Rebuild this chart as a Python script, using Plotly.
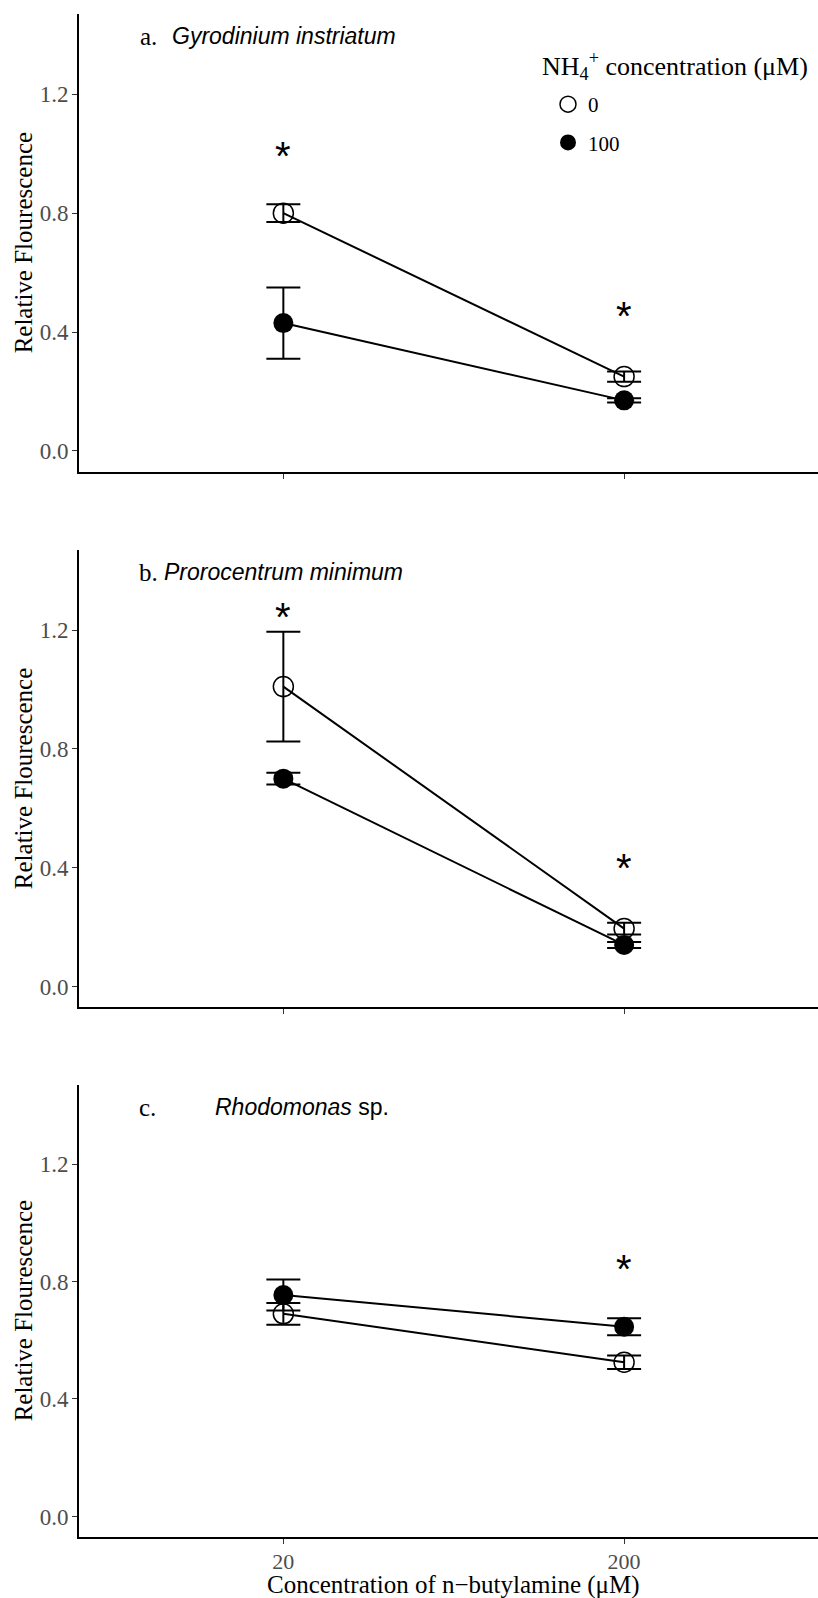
import plotly.graph_objects as go

# ---------------- data ----------------
concs = ["20", "200"]                      # n-butylamine concentration (µM)
nh4_levels = ["0", "100"]                  # NH4+ concentration (µM)
panel_letters = ["a.", "b.", "c."]
species = ["<i>Gyrodinium instriatum</i>",
           "<i>Prorocentrum minimum</i>",
           "<i>Rhodomonas</i> sp."]

a_mean_0 = [0.80, 0.25]
a_se_0 = [0.030, 0.017]
a_mean_100 = [0.43, 0.17]
a_se_100 = [0.120, 0.007]
a_star = [1.01, 0.47]

b_mean_0 = [1.01, 0.195]
b_se_0 = [0.185, 0.020]
b_mean_100 = [0.70, 0.14]
b_se_100 = [0.020, 0.010]
b_star = [1.26, 0.415]

c_mean_0 = [0.69, 0.525]
c_se_0 = [0.037, 0.023]
c_mean_100 = [0.754, 0.646]
c_se_100 = [0.053, 0.029]
c_star = [None, 0.86]

y_ticks = [0.0, 0.4, 0.8, 1.2]
y_title = "Relative Flourescence"
x_title = "Concentration of n\u2212butylamine (\u03bcM)"
legend_title = "NH<sub>4</sub><sup>+</sup> concentration (\u03bcM)"

panels = [
    (a_mean_0, a_se_0, a_mean_100, a_se_100, a_star),
    (b_mean_0, b_se_0, b_mean_100, b_se_100, b_star),
    (c_mean_0, c_se_0, c_mean_100, c_se_100, c_star),
]

# ---------------- layout geometry (pixels) ----------------
W, H = 818, 1598
panel_px = [(14.0, 471.7), (550.0, 1007.3), (1084.7, 1537.0)]   # top, bottom
x_left_px = 79.0
title_x_px = [(138, 170), (137, 162), (137, 213)]

SERIF = "Liberation Serif"
SANS = "Liberation Sans"
TICK_GREY = "#4D4D4D"

fig = go.Figure()
annotations = []

for i, (m0, s0, m100, s100, stars) in enumerate(panels):
    n = i + 1
    xa = "x" if n == 1 else f"x{n}"
    ya = "y" if n == 1 else f"y{n}"
    xidx = list(range(len(concs)))

    # connecting lines
    for m in (m0, m100):
        fig.add_trace(go.Scatter(
            x=concs, y=m, mode="lines", xaxis=xa, yaxis=ya,
            line=dict(color="black", width=2), showlegend=False,
            hoverinfo="skip"))

    # points with error bars
    fig.add_trace(go.Scatter(
        x=concs, y=m0, mode="markers", xaxis=xa, yaxis=ya,
        name=nh4_levels[0], legendgroup="g0", showlegend=(n == 1),
        marker=dict(symbol="circle-open", size=20, color="black",
                    line=dict(width=1.5, color="black")),
        error_y=dict(type="data", array=s0, visible=True, color="black",
                     thickness=2, width=17)))
    fig.add_trace(go.Scatter(
        x=concs, y=m100, mode="markers", xaxis=xa, yaxis=ya,
        name=nh4_levels[1], legendgroup="g1", showlegend=(n == 1),
        marker=dict(symbol="circle", size=20, color="black",
                    line=dict(width=0)),
        error_y=dict(type="data", array=s100, visible=True, color="black",
                     thickness=2, width=17)))

    top, bot = panel_px[i]
    dom = [1 - bot / H, 1 - top / H]
    fig.update_layout(**{
        ("xaxis" if n == 1 else f"xaxis{n}"): dict(
            domain=[x_left_px / W, 1.0], anchor=ya,
            type="category", categoryorder="array", categoryarray=concs,
            range=[-0.5997, 1.569], showline=True, linecolor="black",
            linewidth=2, ticks="outside", ticklen=5, tickwidth=1,
            tickcolor="#333333", showgrid=False, zeroline=False,
            showticklabels=(n == 3), ticklabelstandoff=-1,
            tickfont=dict(family=SERIF, size=22, color=TICK_GREY)),
        ("yaxis" if n == 1 else f"yaxis{n}"): dict(
            domain=dom, anchor=xa, range=[-0.07, 1.47],
            tickvals=y_ticks, tickformat=".1f", showline=True,
            linecolor="black", linewidth=2, ticks="outside", ticklen=5,
            tickwidth=1, tickcolor="#333333", showgrid=False,
            zeroline=False, ticklabelstandoff=-1,
            tickfont=dict(family=SERIF, size=23, color=TICK_GREY)),
    })

    # significance asterisks
    for j, sy in enumerate(stars):
        if sy is None:
            continue
        annotations.append(dict(
            x=xidx[j], y=sy, xref=xa, yref=ya, text="*", showarrow=False,
            font=dict(family=SANS, size=40, color="black"),
            xanchor="center", yanchor="middle", yshift=-5))

    # panel titles
    base = top + 30.5
    lx, sx = title_x_px[i]
    annotations.append(dict(
        x=lx / W, y=1 - (base + 0.216 * 25 + 2) / H, xref="paper",
        yref="paper", text=panel_letters[i], showarrow=False,
        xanchor="left", yanchor="bottom",
        font=dict(family=SERIF, size=25, color="black")))
    annotations.append(dict(
        x=sx / W, y=1 - (base + 0.212 * 23 + 2) / H, xref="paper",
        yref="paper", text=species[i], showarrow=False,
        xanchor="left", yanchor="bottom",
        font=dict(family=SANS, size=23, color="black")))

    # y-axis title
    annotations.append(dict(
        x=23.5 / W, y=(dom[0] + dom[1]) / 2, xref="paper", yref="paper",
        text=y_title, showarrow=False, textangle=-90,
        xanchor="center", yanchor="middle",
        font=dict(family=SERIF, size=25, color="black")))

# x-axis title (bottom panel)
annotations.append(dict(
    x=454 / W, y=0, xref="paper", yref="paper", text=x_title,
    showarrow=False, xanchor="center", yanchor="bottom", yshift=-2,
    borderpad=0,
    font=dict(family=SERIF, size=25, color="black")))

# legend title
annotations.append(dict(
    x=540 / W, y=1 - 66 / H, xref="paper", yref="paper", text=legend_title,
    showarrow=False, xanchor="left", yanchor="middle",
    font=dict(family=SERIF, size=26, color="black")))

fig.update_layout(
    width=W, height=H, margin=dict(l=0, r=0, t=0, b=0),
    paper_bgcolor="white", plot_bgcolor="white",
    annotations=annotations,
    legend=dict(
        x=548 / W, y=1 - 84 / H, xanchor="left", yanchor="top",
        font=dict(family=SERIF, size=21, color="black"),
        traceorder="grouped", tracegroupgap=8, bgcolor="rgba(0,0,0,0)",
        itemsizing="trace"),
)

fig.write_html("out.html")
